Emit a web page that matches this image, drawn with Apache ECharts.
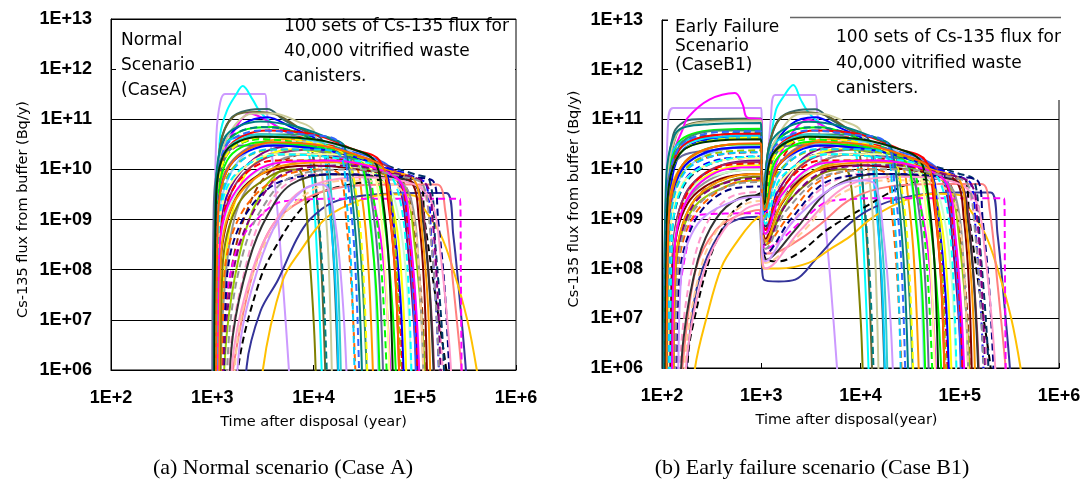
<!DOCTYPE html>
<html>
<head>
<meta charset="utf-8">
<script src="https://cdn.jsdelivr.net/npm/echarts@6/dist/echarts.min.js"></script>
<style>
  html, body { margin: 0; padding: 0; background: #fff; }
  #container { width: 1086px; height: 495px; }
</style>
</head>
<body>
<div id="container"></div>
<script>
  // axis ticks (years, Bq/y)
  const xTicks = [1e2, 1e3, 1e4, 1e5, 1e6]
  const yTicks = [1e6, 1e7, 1e8, 1e9, 1e10, 1e11, 1e12, 1e13]

  // line colours / dashed realisations (same order in both panels)
  const lineColors = [
    '#CC99FF', '#00FFFF', '#336666', '#666633', '#FF00FF', '#0000FF', '#00FF00', '#FF0000',
    '#FF9900', '#FFFF00', '#800080', '#993300', '#008080', '#00CCFF', '#99CC00', '#FF99CC',
    '#333399', '#FFC000', '#000000', '#FF8080', '#FF00FF', '#969696', '#339966', '#3366FF',
    '#003366', '#808000', '#CCCC99', '#99CCFF', '#FF6600', '#993366', '#00FF00', '#0000FF',
    '#CCFFCC', '#FF0000', '#333333', '#FFCC99', '#666699', '#33CCCC', '#800000', '#FFFF99',
    '#000080', '#FF99CC', '#00FF00', '#FF0000', '#0000FF', '#FFFF00', '#00FFFF', '#FF9900',
    '#008080', '#800080', '#99CC00', '#3366FF', '#FF00FF', '#003300', '#00CCFF', '#FF6600',
    '#969696', '#CC99FF'
  ]
  const dashedLines = [7, 11, 12, 15, 18, 20, 24, 28, 30, 31, 35, 40, 43, 45, 46, 49, 50, 51, 54, 56]

  // Case A : [year, flux]
  const caseA = [
    [[1040,1e5],[1060,1e9],[1100,5e10],[1200,2.2e11],[1335,3.2e11],[3320,3.2e11],[3450,1.5e11],[3800,3e10],[4370,1.8e9],[5000,5e7],[5720,1e6],[5900,3e5]],
    [[1080,1e5],[1110,1e9],[1200,5e10],[1400,1.5e11],[1700,3e11],[2000,4.6e11],[2500,2.5e11],[2900,1.5e11],[3500,1e11],[5000,6e10],[8000,3.5e10],[9500,1e10],[11000,1e8],[12500,1e5]],
    [[1050,1e5],[1080,1e9],[1200,3e10],[1500,1e11],[2200,1.5e11],[3500,1.6e11],[5000,1e11],[8000,6e10],[12000,4e10],[14000,5e9],[16000,1e8],[18000,1e5]],
    [[1060,1e5],[1090,1e9],[1200,3e10],[1600,1.1e11],[2800,1.4e11],[4500,1.2e11],[7000,7e10],[9000,5e10],[10500,5e9],[12000,1e8],[13500,1e5]],
    [[1100,1e5],[1130,1e9],[1300,2e10],[1800,8e10],[2350,1.3e11],[3000,1.1e11],[6000,5e10],[15000,2e10],[30000,1e10],[40000,2e9],[50000,1e8],[60000,1e5]],
    [[1070,1e5],[1100,1e9],[1250,3e10],[2000,8e10],[3500,1.1e11],[6000,7e10],[15000,3e10],[40000,1.2e10],[70000,8e9],[85000,1e9],[100000,3e7],[110000,1e5]],
    [[1030,1e5],[1060,1e9],[1200,2e10],[2000,6e10],[4000,7e10],[10000,4e10],[25000,2e10],[40000,1e10],[50000,1e9],[60000,2e7],[68000,1e5]],
    [[1080,1e5],[1120,1e9],[1300,1.5e10],[2500,4e10],[6000,4.5e10],[15000,3e10],[30000,1.5e10],[50000,8e9],[60000,1e9],[70000,3e7],[78000,1e5]],
    [[1050,1e5],[1090,5e8],[1300,8e9],[2500,3e10],[6000,4e10],[15000,2.5e10],[25000,1.5e10],[30000,3e9],[35000,1e8],[40000,1e5]],
    [[1150,1e5],[1230,1e7],[1400,3e8],[1700,2.5e9],[2500,1.2e10],[6000,2.5e10],[15000,2e10],[40000,1e10],[60000,2e9],[75000,5e7],[85000,1e5]],
    [[1100,1e5],[1150,1e8],[1400,3e9],[3000,2e10],[8000,3e10],[20000,2e10],[50000,1e10],[70000,5e9],[85000,3e8],[100000,5e6],[110000,1e5]],
    [[1200,1e5],[1300,5e6],[1600,1.5e8],[2200,1.5e9],[3500,8e9],[8000,2e10],[20000,1.5e10],[50000,8e9],[80000,5e9],[100000,5e8],[120000,1e7],[130000,1e5]],
    [[1060,1e5],[1090,1e9],[1300,3e10],[3000,7e10],[6000,6e10],[9000,4e10],[10500,5e9],[12500,5e7],[14000,1e5]],
    [[1040,1e5],[1080,2e9],[1300,3e10],[3000,5e10],[8000,4e10],[12000,3e10],[14000,3e9],[16500,5e7],[18000,1e5]],
    [[1250,1e5],[1400,6e6],[1800,1.5e8],[2500,1.5e9],[4000,7e9],[8000,1.5e10],[20000,1.3e10],[50000,8e9],[80000,4e9],[100000,3e8],[120000,5e6],[130000,1e5]],
    [[1400,1e5],[1550,4e6],[2100,1e8],[3000,1e9],[5000,4.5e9],[10000,8e9],[30000,8e9],[80000,6e9],[120000,4e9],[150000,3e8],[180000,5e6],[200000,1e5]],
    [[2100,1e5],[2190,1.2e6],[3000,1.5e7],[4470,6.3e7],[6800,4e8],[9200,1e9],[15500,2.2e9],[30000,3e9],[100000,3.4e9],[205000,3.4e9],[240000,5e8],[290000,1e7],[320000,1e6],[330000,3e5]],
    [[3000,1e5],[3160,1e6],[5000,6.3e7],[7350,2.3e8],[13500,1.1e9],[30000,2.5e9],[60000,3.2e9],[100000,3e9],[120000,1.8e9],[180000,5e8],[240000,1e8],[330000,1e7],[410000,1e6],[440000,3e5]],
    [[1700,1e5],[1790,1e6],[2960,6.3e7],[4660,4e8],[7400,1.55e9],[11600,3.4e9],[30000,5.5e9],[70000,6.5e9],[110000,6.5e9],[125000,1e9],[160000,3e7],[205000,1e6],[215000,3e5]],
    [[1500,1e5],[1600,1e6],[2500,8e7],[4000,8e8],[8000,2.5e9],[20000,4.5e9],[60000,5e9],[166000,5e9],[200000,1.5e9],[240000,5e7],[290000,1e6],[300000,3e5]],
    [[1200,1e5],[1300,1e7],[1800,3e8],[3000,1.2e9],[5000,2.3e9],[20000,2.6e9],[280000,2.6e9],[285000,1e8],[290000,1e6],[292000,1e5]],
    [[1180,1e5],[1260,1e7],[1500,4e8],[2000,3e9],[3500,1.1e10],[8000,2e10],[30000,1.5e10],[60000,8e9],[90000,3e9],[110000,1e8],[125000,1e5]],
    [[1050,1e5],[1080,1e9],[1400,2e10],[3000,5e10],[8000,5e10],[20000,3e10],[25000,5e9],[30000,1e8],[35000,1e5]],
    [[1080,1e5],[1110,5e8],[1400,1e10],[3000,3e10],[10000,3e10],[30000,2e10],[60000,1e10],[80000,2e9],[95000,5e7],[105000,1e5]],
    [[1100,1e5],[1150,3e8],[1500,5e9],[4000,2e10],[15000,2e10],[50000,1.2e10],[100000,8e9],[140000,6e9],[160000,3e8],[190000,3e6],[200000,1e5]],
    [[1200,1e5],[1260,1e8],[1800,2e9],[4000,8e9],[7000,1e10],[8000,5e9],[9000,3e8],[10200,5e6],[10800,1e5]],
    [[1050,1e5],[1080,1e9],[1300,3e10],[2500,1.3e11],[4000,1.3e11],[7000,9e10],[10000,6e10],[12000,1e10],[14000,2e8],[15500,1e5]],
    [[1080,1e5],[1120,5e8],[1500,8e9],[3000,3e10],[10000,3.5e10],[25000,2e10],[35000,2e9],[40000,1e8],[45000,1e5]],
    [[1250,1e5],[1300,5e7],[1800,1e9],[4000,6e9],[12000,1e10],[18000,8e9],[21000,1e9],[24000,3e7],[27000,1e5]],
    [[1120,1e5],[1160,1e8],[1500,3e9],[3000,1.5e10],[10000,2.5e10],[40000,1.5e10],[80000,7e9],[110000,4e9],[130000,3e8],[150000,5e6],[160000,1e5]],
    [[1060,1e5],[1100,1e9],[1400,2e10],[3000,4e10],[10000,3e10],[30000,1.5e10],[40000,2e9],[48000,5e7],[55000,1e5]],
    [[1100,1e5],[1140,3e8],[1600,6e9],[4000,2e10],[20000,1.8e10],[60000,1e10],[100000,7e9],[130000,5e9],[145000,5e8],[165000,1e7],[180000,1e5]],
    [[1150,1e5],[1200,2e8],[2000,5e9],[6000,1.5e10],[20000,1.2e10],[50000,6e9],[70000,1e9],[85000,3e7],[95000,1e5]],
    [[1070,1e5],[1100,1e9],[1400,2.5e10],[3500,6e10],[10000,5e10],[25000,2.5e10],[45000,1.5e10],[55000,2e9],[65000,5e7],[72000,1e5]],
    [[1450,1e5],[1600,5e6],[2300,1.5e8],[3500,1.2e9],[6000,5e9],[15000,8e9],[50000,7e9],[100000,5e9],[120000,1e9],[140000,4e7],[160000,1e5]],
    [[1600,1e5],[1800,5e6],[2800,1.5e8],[5000,1.2e9],[10000,4e9],[20000,6e9],[60000,5e9],[90000,2e9],[110000,1e8],[125000,1e5]],
    [[1000,1e5],[1030,1e9],[1200,1.5e10],[2000,3e10],[5000,3e10],[15000,2e10],[30000,1.2e10],[38000,2e9],[45000,5e7],[50000,1e5]],
    [[1060,1e5],[1090,1e9],[1300,2e10],[3000,5e10],[9000,4e10],[13000,3e10],[15000,3e9],[17500,5e7],[19000,1e5]],
    [[1150,1e5],[1200,1e8],[1600,2e9],[3000,8e9],[10000,1.2e10],[40000,9e9],[90000,6e9],[110000,1e9],[125000,3e7],[135000,1e5]],
    [[1100,1e5],[1150,3e8],[1500,5e9],[4000,2e10],[15000,2e10],[35000,1.2e10],[45000,2e9],[52000,5e7],[58000,1e5]],
    [[1300,1e5],[1380,5e7],[2000,1e9],[5000,6e9],[20000,8e9],[80000,7e9],[150000,6e9],[170000,1e9],[200000,3e7],[230000,1e5]],
    [[1500,1e5],[1650,3e6],[2500,1e8],[4000,8e8],[8000,4e9],[30000,7e9],[100000,5e9],[150000,2e9],[180000,2e8],[220000,3e6],[240000,1e5]],
    [[1090,1e5],[1120,8e8],[1400,1.5e10],[3000,3.5e10],[8000,3e10],[20000,2e10],[30000,1.2e10],[36000,1e9],[42000,3e7],[46000,1e5]],
    [[1130,1e5],[1170,2e8],[1600,4e9],[4000,1.5e10],[15000,1.5e10],[40000,1e10],[70000,6e9],[85000,8e8],[100000,2e7],[110000,1e5]],
    [[1090,1e5],[1120,6e8],[1500,1.2e10],[4000,3e10],[12000,2.5e10],[30000,1.6e10],[50000,1e10],[60000,1.5e9],[72000,3e7],[80000,1e5]],
    [[1070,1e5],[1100,1e9],[1400,2e10],[3500,4.5e10],[9000,3.5e10],[20000,2e10],[26000,4e9],[31000,1e8],[35000,1e5]],
    [[1110,1e5],[1150,4e8],[1600,7e9],[5000,2e10],[20000,1.6e10],[50000,1e10],[70000,3e9],[85000,1e8],[95000,1e5]],
    [[1160,1e5],[1200,1e8],[1700,2.5e9],[5000,1.2e10],[20000,1.4e10],[60000,9e9],[100000,6e9],[115000,1e9],[135000,2e7],[145000,1e5]],
    [[1040,1e5],[1070,1.5e9],[1300,4e10],[3000,9e10],[7000,7e10],[15000,4e10],[20000,3e10],[24000,3e9],[28000,5e7],[31000,1e5]],
    [[1250,1e5],[1350,6e6],[1800,2.5e8],[2800,2e9],[5000,8e9],[20000,1.2e10],[70000,8e9],[130000,5e9],[150000,1e9],[170000,2e7],[185000,1e5]],
    [[1090,1e5],[1130,5e8],[1500,9e9],[4000,2.5e10],[15000,2.2e10],[40000,1.3e10],[55000,5e9],[65000,2e8],[75000,1e5]],
    [[1070,1e5],[1100,1e9],[1300,2.5e10],[3000,6e10],[8000,5e10],[18000,3.5e10],[22000,5e9],[26000,1e8],[29000,1e5]],
    [[1120,1e5],[1170,2e8],[1600,3e9],[4000,1.3e10],[15000,1.5e10],[45000,1e10],[75000,5e9],[90000,5e8],[105000,1e7],[115000,1e5]],
    [[1050,1e5],[1080,1e9],[1300,2e10],[3000,4.5e10],[10000,4e10],[25000,2.5e10],[40000,1.5e10],[48000,3e9],[56000,1e8],[62000,1e5]],
    [[1100,1e5],[1140,5e8],[1500,8e9],[3500,2.5e10],[10000,2.5e10],[18000,2e10],[21000,3e9],[24000,5e7],[26000,1e5]],
    [[1090,1e5],[1130,7e8],[1500,1.2e10],[4000,3.5e10],[12000,3e10],[35000,1.6e10],[50000,1e10],[58000,1e9],[66000,3e7],[72000,1e5]],
    [[1350,1e5],[1500,8e6],[2000,2e8],[3000,1.5e9],[6000,7e9],[25000,1e10],[80000,7e9],[120000,5e9],[140000,8e8],[165000,1e7],[180000,1e5]],
    [[1700,1e5],[1900,4e6],[2800,1e8],[4500,1e9],[8000,4e9],[12000,5e9],[14000,4e9],[17000,5e8],[20000,1e7],[22000,1e5]]
  ]

  // Case B1 : [year, flux]
  const caseB1 = [
    [[105,1e5],[110,1e9],[115,8e10],[130,1.7e11],[1000,1.7e11],[1020,5e9],[1060,1e9],[1150,1e10],[1250,1e11],[1380,3.1e11],[3500,3.1e11],[3650,1.5e11],[4000,2e10],[4360,1.3e9],[5000,5e7],[5800,1e6],[6000,3e5]],
    [[110,1e5],[115,1e9],[140,2e10],[250,4e10],[990,4.5e10],[1020,4e9],[1070,2e9],[1200,2e10],[1400,1.5e11],[1700,3e11],[2100,4.9e11],[2500,2.5e11],[2900,1.5e11],[3500,1e11],[5000,6e10],[8000,3.5e10],[9500,1e10],[11000,1e8],[12500,1e5]],
    [[105,1e5],[110,1e9],[130,5e10],[200,1e11],[990,1.05e11],[1015,1e10],[1060,5e9],[1200,3e10],[1500,1e11],[2200,1.5e11],[3500,1.6e11],[5000,1e11],[8000,6e10],[12000,4e10],[14000,5e9],[16000,1e8],[18000,1e5]],
    [[108,1e5],[112,1e9],[140,5e10],[250,9e10],[990,1e11],[1015,8e9],[1060,4e9],[1200,3e10],[1600,1.1e11],[2800,1.4e11],[4500,1.2e11],[7000,7e10],[9000,5e10],[10500,5e9],[12000,1e8],[13500,1e5]],
    [[110,1e5],[115,1e9],[130,2e10],[160,6e10],[183,1.1e11],[300,2.5e11],[543,3.4e11],[650,2e11],[718,1.1e11],[1000,1e11],[1030,3e9],[1100,1e9],[1300,8e9],[2000,5e10],[3000,1e11],[5000,6e10],[15000,2e10],[30000,1e10],[40000,2e9],[50000,1e8],[60000,1e5]],
    [[112,1e5],[118,1e9],[150,2e10],[300,4e10],[990,5e10],[1020,4e9],[1080,2e9],[1250,2e10],[2000,8e10],[3500,1.1e11],[6000,7e10],[15000,3e10],[40000,1.2e10],[70000,8e9],[85000,1e9],[100000,3e7],[110000,1e5]],
    [[106,1e5],[110,1e9],[140,3e10],[300,6e10],[990,6.5e10],[1020,5e9],[1070,3e9],[1200,2e10],[2000,6e10],[4000,7e10],[10000,4e10],[25000,2e10],[40000,1e10],[50000,1e9],[60000,2e7],[68000,1e5]],
    [[115,1e5],[122,5e8],[160,8e9],[400,2e10],[990,2.2e10],[1020,2e9],[1080,8e8],[1300,6e9],[2500,4e10],[6000,4.5e10],[15000,3e10],[30000,1.5e10],[50000,8e9],[60000,1e9],[70000,3e7],[78000,1e5]],
    [[110,1e5],[116,8e8],[150,1e10],[400,3e10],[990,3.2e10],[1020,3e9],[1080,1.5e9],[1300,8e9],[2500,3e10],[6000,4e10],[15000,2.5e10],[25000,1.5e10],[30000,3e9],[35000,1e8],[40000,1e5]],
    [[125,1e5],[132,1e8],[180,3e9],[400,1e10],[990,1.2e10],[1020,1e9],[1100,5e8],[1400,2e9],[2500,1.2e10],[6000,2.5e10],[15000,2e10],[40000,1e10],[60000,2e9],[75000,5e7],[85000,1e5]],
    [[120,1e5],[127,1e8],[170,3e9],[400,1.2e10],[990,1.5e10],[1020,1.2e9],[1100,6e8],[1400,3e9],[3000,2e10],[8000,3e10],[20000,2e10],[50000,1e10],[70000,5e9],[85000,3e8],[100000,5e6],[110000,1e5]],
    [[125,1e5],[133,5e7],[200,2e9],[500,7e9],[990,8e9],[1020,8e8],[1100,4e8],[1500,2e9],[3000,1e10],[8000,2e10],[20000,1.5e10],[50000,8e9],[80000,5e9],[100000,5e8],[120000,1e7],[130000,1e5]],
    [[108,1e5],[112,1e9],[150,3e10],[400,5e10],[990,5.5e10],[1020,5e9],[1070,2.5e9],[1300,3e10],[3000,7e10],[6000,6e10],[9000,4e10],[10500,5e9],[12500,5e7],[14000,1e5]],
    [[106,1e5],[110,2e9],[140,3e10],[400,4.5e10],[990,4.8e10],[1020,4e9],[1070,2e9],[1300,3e10],[3000,5e10],[8000,4e10],[12000,3e10],[14000,3e9],[16500,5e7],[18000,1e5]],
    [[130,1e5],[138,1e8],[200,1.5e9],[500,5e9],[990,6e9],[1020,6e8],[1100,3e8],[1600,1.5e9],[3000,8e9],[8000,1.5e10],[20000,1.3e10],[50000,8e9],[80000,4e9],[100000,3e8],[120000,5e6],[130000,1e5]],
    [[145,1e5],[160,5e6],[210,1.5e8],[300,1e9],[500,2.8e9],[990,3.5e9],[1020,4e8],[1100,2e8],[2000,8e8],[4000,4e9],[10000,8e9],[30000,8e9],[80000,6e9],[120000,4e9],[150000,3e8],[180000,5e6],[200000,1e5]],
    [[170,1e5],[177,1e6],[230,5e7],[400,6e8],[600,1e9],[930,1.1e9],[1010,1.5e8],[1060,6e7],[1500,5.5e7],[2200,6e7],[3500,1.5e8],[6600,6e8],[12000,1.5e9],[30000,2.8e9],[100000,3.4e9],[205000,3.4e9],[240000,5e8],[290000,1e7],[320000,1e6],[330000,3e5]],
    [[200,1e5],[215,1e6],[280,1e7],[400,1.1e8],[600,4e8],[800,8.3e8],[950,1.1e9],[1010,2e8],[1060,1e8],[1500,1e8],[3000,1.3e8],[5000,2.5e8],[7800,4.4e8],[13500,1.1e9],[30000,2.5e9],[60000,3.2e9],[100000,3e9],[120000,1.8e9],[180000,5e8],[240000,1e8],[330000,1e7],[410000,1e6],[440000,3e5]],
    [[175,1e5],[184,2e6],[207,7.9e6],[292,1.27e8],[400,6e8],[585,1.8e9],[1000,3.3e9],[1030,5e8],[1100,1.6e8],[1500,1.4e8],[2500,2.2e8],[4600,6e8],[9800,1.5e9],[30000,5e9],[70000,6.5e9],[110000,6.5e9],[125000,1e9],[160000,3e7],[205000,1e6],[215000,3e5]],
    [[150,1e5],[160,1e6],[220,1e8],[350,6e8],[600,1.2e9],[950,1.5e9],[1020,4e8],[1100,2e8],[1500,2.2e8],[2500,4e8],[4000,8e8],[8000,2.5e9],[20000,4.5e9],[60000,5e9],[166000,5e9],[200000,1.5e9],[240000,5e7],[290000,1e6],[300000,3e5]],
    [[130,1e5],[140,1e7],[180,3e8],[230,1.2e9],[950,1.3e9],[1020,5e8],[1100,2.5e8],[1500,3.5e8],[3000,1.2e9],[5000,2.3e9],[20000,2.6e9],[280000,2.6e9],[285000,1e8],[290000,1e6],[292000,1e5]],
    [[120,1e5],[126,1e8],[170,2e9],[400,8e9],[990,1e10],[1020,1e9],[1100,5e8],[1600,2e9],[3000,1e10],[8000,2e10],[30000,1.5e10],[60000,8e9],[90000,3e9],[110000,1e8],[125000,1e5]],
    [[107,1e5],[111,1e9],[150,3e10],[400,6e10],[990,6e10],[1020,6e9],[1070,3e9],[1400,2e10],[3000,5e10],[8000,5e10],[20000,3e10],[25000,5e9],[30000,1e8],[35000,1e5]],
    [[112,1e5],[117,5e8],[160,1e10],[400,2.5e10],[990,2.8e10],[1020,3e9],[1080,1.5e9],[1400,1e10],[3000,3e10],[10000,3e10],[30000,2e10],[60000,1e10],[80000,2e9],[95000,5e7],[105000,1e5]],
    [[118,1e5],[124,3e8],[170,5e9],[400,1.5e10],[990,1.7e10],[1020,1.5e9],[1100,7e8],[1500,5e9],[4000,2e10],[15000,2e10],[50000,1.2e10],[100000,8e9],[140000,6e9],[160000,3e8],[190000,3e6],[200000,1e5]],
    [[130,1e5],[137,1e8],[200,2e9],[500,6e9],[990,7e9],[1020,7e8],[1100,3.5e8],[1800,2e9],[4000,8e9],[7000,1e10],[8000,5e9],[9000,3e8],[10200,5e6],[10800,1e5]],
    [[106,1e5],[110,1e9],[140,5e10],[300,9e10],[990,9.5e10],[1015,9e9],[1060,5e9],[1300,3e10],[2500,1.3e11],[4000,1.3e11],[7000,9e10],[10000,6e10],[12000,1e10],[14000,2e8],[15500,1e5]],
    [[112,1e5],[118,5e8],[160,8e9],[400,2.5e10],[990,3e10],[1020,3e9],[1080,1.5e9],[1500,8e9],[3000,3e10],[10000,3.5e10],[25000,2e10],[35000,2e9],[40000,1e8],[45000,1e5]],
    [[135,1e5],[142,5e7],[200,1e9],[500,5e9],[990,6e9],[1020,6e8],[1100,3e8],[1800,1e9],[4000,6e9],[12000,1e10],[18000,8e9],[21000,1e9],[24000,3e7],[27000,1e5]],
    [[120,1e5],[126,1e8],[170,3e9],[400,1.2e10],[990,1.4e10],[1020,1.3e9],[1100,6e8],[1500,3e9],[3000,1.5e10],[10000,2.5e10],[40000,1.5e10],[80000,7e9],[110000,4e9],[130000,3e8],[150000,5e6],[160000,1e5]],
    [[108,1e5],[112,1e9],[150,2e10],[400,4e10],[990,4.2e10],[1020,4e9],[1070,2e9],[1400,2e10],[3000,4e10],[10000,3e10],[30000,1.5e10],[40000,2e9],[48000,5e7],[55000,1e5]],
    [[118,1e5],[123,3e8],[170,6e9],[400,1.6e10],[990,1.8e10],[1020,1.7e9],[1100,8e8],[1600,6e9],[4000,2e10],[20000,1.8e10],[60000,1e10],[100000,7e9],[130000,5e9],[145000,5e8],[165000,1e7],[180000,1e5]],
    [[125,1e5],[131,2e8],[200,4e9],[500,9e9],[990,1e10],[1020,1e9],[1100,5e8],[2000,5e9],[6000,1.5e10],[20000,1.2e10],[50000,6e9],[70000,1e9],[85000,3e7],[95000,1e5]],
    [[109,1e5],[113,1e9],[150,2.5e10],[400,5e10],[990,5.2e10],[1020,5e9],[1070,2.5e9],[1400,2.5e10],[3500,6e10],[10000,5e10],[25000,2.5e10],[45000,1.5e10],[55000,2e9],[65000,5e7],[72000,1e5]],
    [[150,1e5],[165,4e6],[230,1.5e8],[350,1e9],[600,2.6e9],[990,3e9],[1020,3e8],[1100,1.5e8],[2200,6e8],[5000,4e9],[15000,8e9],[50000,7e9],[100000,5e9],[120000,1e9],[140000,4e7],[160000,1e5]],
    [[160,1e5],[180,4e6],[260,1.5e8],[400,8e8],[700,2e9],[990,2.3e9],[1020,2.5e8],[1100,1.3e8],[2500,5e8],[6000,3e9],[20000,6e9],[60000,5e9],[90000,2e9],[110000,1e8],[125000,1e5]],
    [[104,1e5],[108,1e9],[140,1.5e10],[400,2.5e10],[990,2.8e10],[1020,2.8e9],[1070,1.4e9],[1200,1.5e10],[2000,3e10],[5000,3e10],[15000,2e10],[30000,1.2e10],[38000,2e9],[45000,5e7],[50000,1e5]],
    [[108,1e5],[112,1e9],[150,2e10],[400,4e10],[990,4.4e10],[1020,4e9],[1070,2e9],[1300,2e10],[3000,5e10],[9000,4e10],[13000,3e10],[15000,3e9],[17500,5e7],[19000,1e5]],
    [[122,1e5],[128,1e8],[180,2e9],[450,7e9],[990,8e9],[1020,8e8],[1100,4e8],[1600,2e9],[3000,8e9],[10000,1.2e10],[40000,9e9],[90000,6e9],[110000,1e9],[125000,3e7],[135000,1e5]],
    [[115,1e5],[120,3e8],[160,5e9],[400,1.5e10],[990,1.7e10],[1020,1.7e9],[1100,8e8],[1500,5e9],[4000,2e10],[15000,2e10],[35000,1.2e10],[45000,2e9],[52000,5e7],[58000,1e5]],
    [[140,1e5],[148,5e7],[220,1e9],[500,4e9],[990,4.5e9],[1020,4.5e8],[1100,2e8],[2000,1e9],[5000,6e9],[20000,8e9],[80000,7e9],[150000,6e9],[170000,1e9],[200000,3e7],[230000,1e5]],
    [[165,1e5],[185,3e6],[270,1e8],[420,6e8],[700,1.6e9],[990,2e9],[1020,2e8],[1100,1e8],[2500,6e8],[8000,5e9],[30000,7e9],[100000,5e9],[150000,2e9],[180000,2e8],[220000,3e6],[240000,1e5]],
    [[112,1e5],[117,8e8],[160,1.2e10],[400,3e10],[990,3.2e10],[1020,3e9],[1080,1.5e9],[1400,1.5e10],[3000,3.5e10],[8000,3e10],[20000,2e10],[30000,1.2e10],[36000,1e9],[42000,3e7],[46000,1e5]],
    [[128,1e5],[135,2e8],[190,4e9],[450,1.2e10],[990,1.3e10],[1020,1.2e9],[1100,6e8],[1600,4e9],[4000,1.5e10],[15000,1.5e10],[40000,1e10],[70000,6e9],[85000,8e8],[100000,2e7],[110000,1e5]],
    [[111,1e5],[116,6e8],[160,1e10],[400,2.6e10],[990,2.8e10],[1020,2.8e9],[1080,1.4e9],[1500,1.2e10],[4000,3e10],[12000,2.5e10],[30000,1.6e10],[50000,1e10],[60000,1.5e9],[72000,3e7],[80000,1e5]],
    [[107,1e5],[111,1e9],[150,2e10],[400,4e10],[990,4.3e10],[1020,4e9],[1070,2e9],[1400,2e10],[3500,4.5e10],[9000,3.5e10],[20000,2e10],[26000,4e9],[31000,1e8],[35000,1e5]],
    [[120,1e5],[126,4e8],[175,6e9],[450,1.6e10],[990,1.8e10],[1020,1.6e9],[1100,8e8],[1600,7e9],[5000,2e10],[20000,1.6e10],[50000,1e10],[70000,3e9],[85000,1e8],[95000,1e5]],
    [[130,1e5],[137,1e8],[200,2e9],[500,7e9],[990,8e9],[1020,7e8],[1100,3.5e8],[1700,2.5e9],[5000,1.2e10],[20000,1.4e10],[60000,9e9],[100000,6e9],[115000,1e9],[135000,2e7],[145000,1e5]],
    [[104,1e5],[108,1.5e9],[135,5e10],[300,8e10],[990,8.5e10],[1015,8e9],[1060,4e9],[1300,4e10],[3000,9e10],[7000,7e10],[15000,4e10],[20000,3e10],[24000,3e9],[28000,5e7],[31000,1e5]],
    [[135,1e5],[143,1e8],[210,2e9],[550,6e9],[990,6.5e9],[1020,6e8],[1100,3e8],[1800,2e9],[5000,1e10],[20000,1.2e10],[70000,8e9],[130000,5e9],[150000,1e9],[170000,2e7],[185000,1e5]],
    [[113,1e5],[118,5e8],[165,9e9],[400,2.2e10],[990,2.4e10],[1020,2.3e9],[1080,1.1e9],[1500,9e9],[4000,2.5e10],[15000,2.2e10],[40000,1.3e10],[55000,5e9],[65000,2e8],[75000,1e5]],
    [[107,1e5],[111,1e9],[145,2.5e10],[350,5.5e10],[990,5.8e10],[1020,5.5e9],[1070,2.8e9],[1300,2.5e10],[3000,6e10],[8000,5e10],[18000,3.5e10],[22000,5e9],[26000,1e8],[29000,1e5]],
    [[126,1e5],[133,2e8],[190,3e9],[450,1e10],[990,1.1e10],[1020,1e9],[1100,5e8],[1600,3e9],[4000,1.3e10],[15000,1.5e10],[45000,1e10],[75000,5e9],[90000,5e8],[105000,1e7],[115000,1e5]],
    [[108,1e5],[112,1e9],[150,2e10],[400,3.8e10],[990,4e10],[1020,4e9],[1070,2e9],[1300,2e10],[3000,4.5e10],[10000,4e10],[25000,2.5e10],[40000,1.5e10],[48000,3e9],[56000,1e8],[62000,1e5]],
    [[115,1e5],[120,5e8],[165,8e9],[400,2e10],[990,2.2e10],[1020,2e9],[1080,1e9],[1500,8e9],[3500,2.5e10],[10000,2.5e10],[18000,2e10],[21000,3e9],[24000,5e7],[26000,1e5]],
    [[111,1e5],[116,7e8],[160,1.2e10],[400,3e10],[990,3.3e10],[1020,3e9],[1080,1.5e9],[1500,1.2e10],[4000,3.5e10],[12000,3e10],[35000,1.6e10],[50000,1e10],[58000,1e9],[66000,3e7],[72000,1e5]],
    [[135,1e5],[143,8e7],[210,1.5e9],[550,5e9],[990,5.5e9],[1020,5e8],[1100,2.5e8],[1800,1.5e9],[5000,8e9],[25000,1e10],[80000,7e9],[120000,5e9],[140000,8e8],[165000,1e7],[180000,1e5]],
    [[145,1e5],[155,6e7],[230,8e8],[600,2.5e9],[990,2.8e9],[1020,2.8e8],[1100,1.4e8],[2000,8e8],[5000,4e9],[10000,6e9],[14000,5e9],[17000,5e8],[20000,1e7],[22000,1e5]]
  ]

  const tickFont = { color: '#000', fontFamily: 'Liberation Sans', fontSize: 18, fontWeight: 'bold' }
  const nameFont = { color: '#000', fontFamily: 'DejaVu Sans', fontSize: 14.5 }
  const boxFont = '17px "DejaVu Sans"'

  const expLabel = (v, pad) => {
    const e = String(Math.round(Math.log10(v)))
    return '1E+' + (pad ? e.padStart(2, '0') : e)
  }

  function makeX(gridIndex, padRight) {
    return {
      type: 'log', gridIndex, min: xTicks[0], max: xTicks[xTicks.length - 1], logBase: 10,
      name: padRight ? 'Time after disposal(year)' : 'Time after disposal (year)',
      nameLocation: 'middle', nameGap: 45,
      nameTextStyle: Object.assign({ padding: [0, padRight, 0, 0] }, nameFont),
      axisLine: { show: true, lineStyle: { color: '#000', width: 1 } },
      axisTick: { show: true, inside: true, length: 5, lineStyle: { color: '#000' } },
      minorTick: { show: false },
      axisLabel: Object.assign({ margin: 19, formatter: v => expLabel(v, false) }, tickFont),
      splitLine: { show: false }
    }
  }

  function makeY(gridIndex, padRight) {
    return {
      type: 'log', gridIndex, min: yTicks[0], max: yTicks[yTicks.length - 1], logBase: 10,
      name: 'Cs-135 flux from buffer (Bq/y)',
      nameLocation: 'middle', nameGap: 80,
      nameTextStyle: Object.assign({ padding: [0, padRight, 0, 0] }, nameFont),
      axisLine: { show: true, lineStyle: { color: '#000', width: 1 } },
      axisTick: { show: true, inside: true, length: 5, lineStyle: { color: '#000' } },
      axisLabel: Object.assign({ margin: 19, formatter: v => expLabel(v, true) }, tickFont),
      splitLine: { show: true, lineStyle: { color: '#000', width: 1 } }
    }
  }

  function makeSeries(curves, idx) {
    return curves.map((pts, i) => ({
      type: 'line', xAxisIndex: idx, yAxisIndex: idx, data: pts,
      showSymbol: false, smooth: 0.35, silent: true, z: 2,
      lineStyle: {
        color: lineColors[i], width: 2,
        type: dashedLines.includes(i) ? [7, 4] : 'solid'
      }
    }))
  }

  const myChart = echarts.init(document.getElementById('container'), null, { renderer: 'canvas' })
  const option = {
    animation: false,
    backgroundColor: '#fff',
    grid: [
      { left: 111, top: 19, width: 405, height: 351, show: true, borderColor: '#000', borderWidth: 1, backgroundColor: 'transparent' },
      { left: 662, top: 20, width: 397, height: 348, show: true, borderColor: '#000', borderWidth: 1, backgroundColor: 'transparent' }
    ],
    xAxis: [makeX(0, 0), makeX(1, 28)],
    yAxis: [makeY(0, 30), makeY(1, 10)],
    series: makeSeries(caseA, 0).concat(makeSeries(caseB1, 1)),
    graphic: {
      elements: [
        // Case A text boxes
        { type: 'rect', z: 1, shape: { x: 116, y: 21, width: 84, height: 79 }, style: { fill: '#fff' } },
        { type: 'rect', z: 1, shape: { x: 279, y: 21, width: 236, height: 70 }, style: { fill: '#fff' } },
        { type: 'text', z: 5, x: 121, y: 28, style: { text: 'Normal\nScenario\n(CaseA)', font: boxFont, fill: '#000', lineHeight: 25 } },
        { type: 'text', z: 5, x: 284, y: 14, style: { text: '100 sets of Cs-135 flux for\n40,000 vitrified waste\ncanisters.', font: boxFont, fill: '#000', lineHeight: 25 } },
        // Case B1 text boxes
        { type: 'rect', z: 1, shape: { x: 668, y: 12, width: 122, height: 88 }, style: { fill: '#fff' } },
        { type: 'rect', z: 1, shape: { x: 829, y: 12, width: 234, height: 88 }, style: { fill: '#fff' } },
        { type: 'rect', z: 1, shape: { x: 788, y: 18.5, width: 44, height: 3 }, style: { fill: '#fff' } },
        { type: 'line', z: 5, shape: { x1: 790, y1: 17.5, x2: 1061, y2: 17.5 }, style: { stroke: '#666', lineWidth: 1.5 } },
        { type: 'text', z: 5, x: 675, y: 18, style: { text: 'Early Failure\nScenario\n(CaseB1)', font: boxFont, fill: '#000', lineHeight: 19 } },
        { type: 'text', z: 5, x: 836, y: 25, style: { text: '100 sets of Cs-135 flux for\n40,000 vitrified waste\ncanisters.', font: boxFont, fill: '#000', lineHeight: 25.5 } },
        // captions
        { type: 'text', z: 5, x: 283, y: 468, style: { text: '(a) Normal scenario (Case A)', font: '22px "Liberation Serif"', fill: '#000', align: 'center', verticalAlign: 'middle' } },
        { type: 'text', z: 5, x: 812, y: 468, style: { text: '(b) Early failure scenario (Case B1)', font: '22px "Liberation Serif"', fill: '#000', align: 'center', verticalAlign: 'middle' } }
      ]
    }
  }
  option && myChart.setOption(option)
</script>
</body>
</html>
